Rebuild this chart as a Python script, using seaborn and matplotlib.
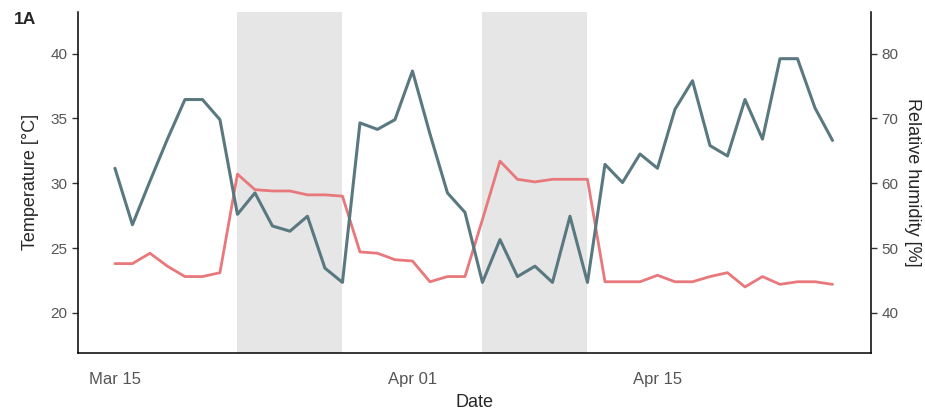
import matplotlib
matplotlib.use("Agg")
import matplotlib.pyplot as plt
import matplotlib.dates as mdates
import numpy as np
import pandas as pd
import seaborn as sns

# Daily air temperature (°C) and relative humidity (%), 15 March to 25 April
start_date = "2020-03-15"
n_days = 42

temperature = [
    23.8, 23.8, 24.6, 23.6, 22.8, 22.8, 23.1, 30.7, 29.5, 29.4,
    29.4, 29.1, 29.1, 29.0, 24.7, 24.6, 24.1, 24.0, 22.4, 22.8,
    22.8, 27.2, 31.7, 30.3, 30.1, 30.3, 30.3, 30.3, 22.4, 22.4,
    22.4, 22.9, 22.4, 22.4, 22.8, 23.1, 22.0, 22.8, 22.2, 22.4,
    22.4, 22.2,
]

humidity = [
    62.3, 53.6, 60.3, 66.8, 72.9, 72.9, 69.8, 55.2, 58.5, 53.4,
    52.6, 54.9, 46.9, 44.7, 69.3, 68.3, 69.8, 77.3, 67.6, 58.5,
    55.5, 44.7, 51.3, 45.6, 47.2, 44.7, 54.9, 44.7, 62.9, 60.1,
    64.5, 62.3, 71.4, 75.8, 65.8, 64.2, 72.9, 66.8, 79.2, 79.2,
    71.6, 66.6,
]

# Shaded periods (start, end)
shaded_periods = [("2020-03-22", "2020-03-28"), ("2020-04-05", "2020-04-11")]

x_ticks = ["2020-03-15", "2020-04-01", "2020-04-15"]

dates = pd.date_range(start_date, periods=n_days, freq="D")
df = pd.DataFrame({"Date": dates, "Temperature": temperature, "Humidity": humidity})

sns.set_style("white")
plt.rcParams["font.family"] = ["Liberation Sans", "DejaVu Sans"]

temp_color = "#E8787B"
hum_color = "#5A7880"
shade_color = "#E6E6E6"
tick_color = "#555555"

fig = plt.figure(figsize=(9.25, 4.15), dpi=100)
ax = fig.add_axes([78 / 925, 1 - 352.7 / 415, (871 - 78) / 925, (352.7 - 12) / 415])
ax2 = ax.twinx()

# y limits: humidity axis is twice the temperature axis
t_lo, t_hi = 16.93, 43.2
ax.set_ylim(t_lo, t_hi)
ax2.set_ylim(2 * t_lo, 2 * t_hi)

x0 = mdates.date2num(pd.Timestamp(start_date))
ax.set_xlim(x0 - 2.11, x0 + 43.2)

for s, e in shaded_periods:
    ax.axvspan(pd.Timestamp(s), pd.Timestamp(e), color=shade_color, lw=0, zorder=0)

sns.lineplot(data=df, x="Date", y="Temperature", ax=ax, color=temp_color, lw=2.0, zorder=3)
sns.lineplot(data=df, x="Date", y="Humidity", ax=ax2, color=hum_color, lw=2.2, zorder=3)

ax.set_xticks([pd.Timestamp(t) for t in x_ticks])
ax.xaxis.set_major_formatter(mdates.DateFormatter("%b %d"))
ax.set_yticks([20, 25, 30, 35, 40])
ax2.set_yticks([40, 50, 60, 70, 80])

for a in (ax, ax2):
    a.tick_params(axis="both", which="major", direction="out", length=4, width=1,
                  color="#333333", labelcolor=tick_color, labelsize=11)
    a.spines["top"].set_visible(False)
    for side in ("left", "right", "bottom"):
        a.spines[side].set_color("black")
        a.spines[side].set_linewidth(1.1)
ax.spines["right"].set_visible(False)
ax2.spines["left"].set_visible(False)
ax2.spines["bottom"].set_visible(False)
ax.tick_params(axis="x", pad=10, labelsize=12)

ax.set_xlabel("Date", fontsize=13, labelpad=5)
ax.set_ylabel("Temperature [°C]", fontsize=13, labelpad=8)
ax2.set_ylabel("Relative humidity [%]", fontsize=13, rotation=270, labelpad=16)

fig.text(14 / 925, 1 - 20 / 415, "1A", fontsize=12.5, fontweight="bold", va="center", ha="left")

fig.savefig("out.png", dpi=100)
